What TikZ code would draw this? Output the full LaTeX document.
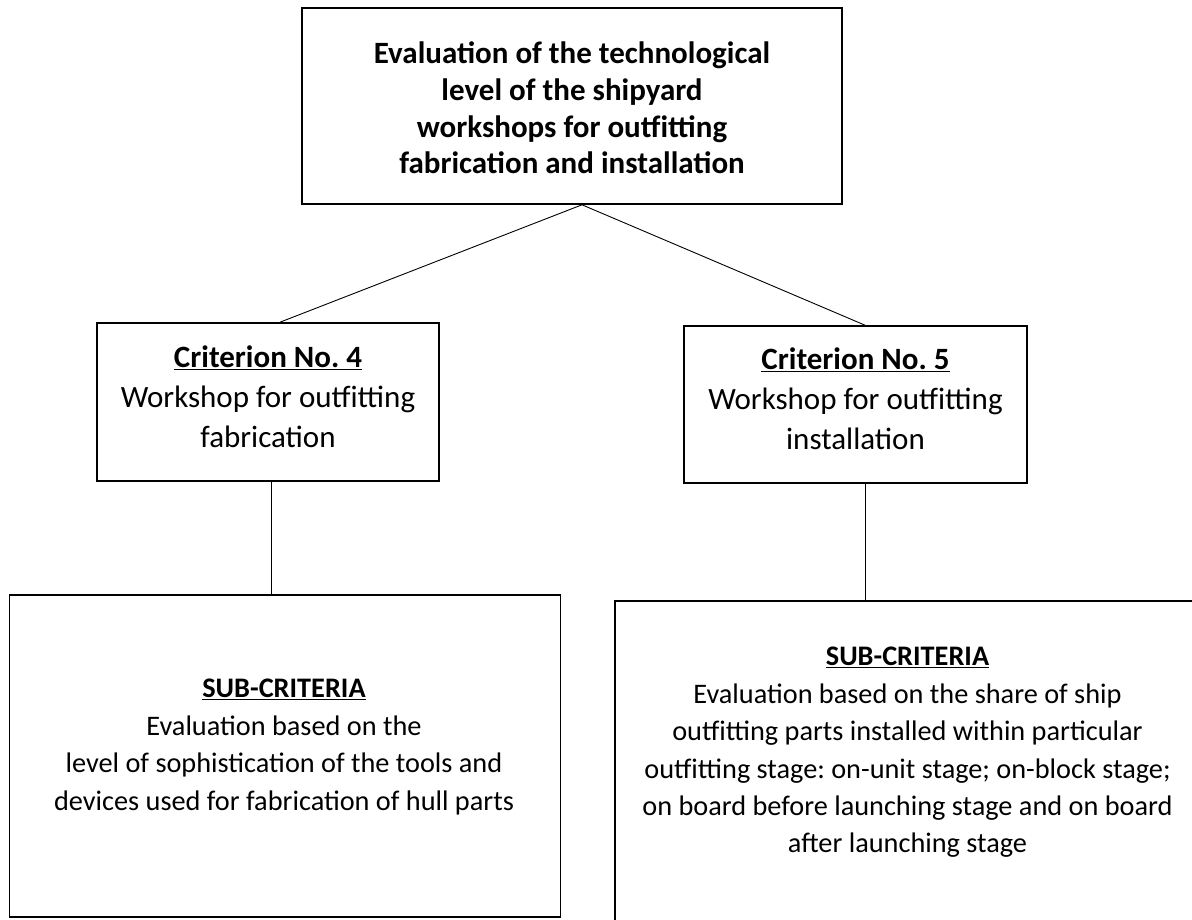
\documentclass[tikz,border=0pt]{standalone}
\usepackage{fontspec}
\setmainfont{Carlito}
\frenchspacing
\usetikzlibrary{calc,positioning}

\tikzset{
    frame/.style={draw, line width=1.6pt, inner sep=0pt},
    link/.style={line width=0.9pt},
    headtext/.style={align=center, font=\bfseries\fontsize{31}{36.7}\selectfont},
    midtext/.style={align=center, font=\fontsize{31}{40}\selectfont},
    subtext/.style={align=center, font=\fontsize{28.3}{37.4}\selectfont}
}

\begin{document}
\begin{tikzpicture}[x=1pt, y=-1pt]
    \useasboundingbox (0,0) rectangle (1192,920);
    \clip (0,0) rectangle (1192,920);

    % Boxes
    \node[frame, minimum width=540, minimum height=196] (goal) at (572,106) {};
    \node[frame, minimum width=342, minimum height=158] (crit4) at (268,402) {};
    \node[frame, minimum width=343, minimum height=157] (crit5) at (855.5,404.5) {};
    \node[frame, minimum width=551, minimum height=322] (sub4) at (285,756) {};
    \node[frame, minimum width=585, minimum height=359] (sub5) at (907.5,780.5) {};

    % Texts
    \node[headtext] (goaltxt) at ($(goal)+(0,2)$)
        {Evaluation of the technological\\ level of the shipyard\\ workshops for outfitting\\ fabrication and installation};
    \node[midtext] (crit4txt) at ($(crit4)+(0,-5)$)
        {\textbf{\underline{Criterion No. 4}}\\ Workshop for outfitting\\ fabrication};
    \node[midtext] (crit5txt) at ($(crit5)+(0,-5.5)$)
        {\textbf{\underline{Criterion No. 5}}\\ Workshop for outfitting\\ installation};
    \node[subtext] (sub4txt) at ($(sub4)+(-1,-9)$)
        {\textbf{\underline{SUB-CRITERIA}}\\ Evaluation based on the\\ level of sophistication of the tools and\\ devices used for fabrication of hull parts};
    \node[subtext] (sub5txt) at ($(sub5)+(0,-28)$)
        {\textbf{\underline{SUB-CRITERIA}}\\ Evaluation based on the share of ship\\ outfitting parts installed within particular\\ outfitting stage: on-unit stage; on-block stage;\\ on board before launching stage and on board\\ after launching stage};

    % Connectors
    \coordinate (apex) at ($(goal.south)+(10,0)$);
    \draw[link] (apex) -- ($(crit4.north)+(12,0)$);
    \draw[link] (apex) -- ($(crit5.north)+(9.5,0)$);
    \draw[link] ([xshift=3pt]crit4.south) -- ([xshift=3pt]crit4.south |- sub4.north);
    \draw[link] ([xshift=9.5pt]crit5.south) -- ([xshift=9.5pt]crit5.south |- sub5.north);
\end{tikzpicture}
\end{document}
